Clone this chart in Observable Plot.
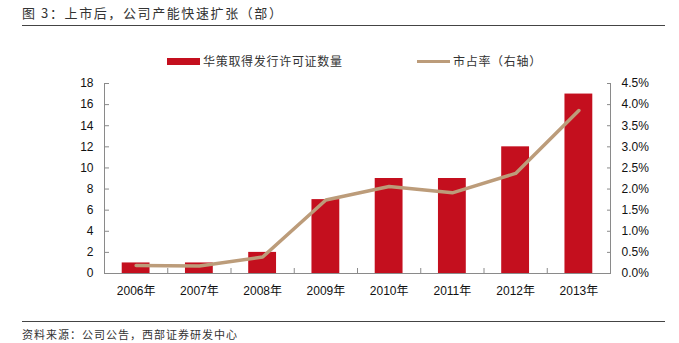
<!DOCTYPE html>
<html>
<head>
<meta charset="utf-8">
<script src="https://cdn.jsdelivr.net/npm/d3@7"></script>
<script src="https://cdn.jsdelivr.net/npm/@observablehq/plot@0.6"></script>
<style>
  html, body { margin: 0; padding: 0; background: #fff; }
  #root { position: relative; width: 679px; height: 343px; overflow: hidden; font-family: "Noto Sans CJK SC", "Liberation Sans", sans-serif; color: #222; }
  .abs { position: absolute; white-space: nowrap; }
  #title { left: 22px; top: 3px; font-size: 13px; letter-spacing: 1.6px; color: #333; }
  .hr { position: absolute; left: 22px; width: 643px; height: 0; border-top: 1px solid #444; }
  #source { left: 22px; top: 326px; font-size: 11px; letter-spacing: 1px; color: #333; }
  .leg { font-size: 12px; letter-spacing: 0.7px; color: #333; top: 52px; }
  #chart { position: absolute; left: 0; top: 70px; }
  #chart text { font-family: "Liberation Sans", "Noto Sans CJK SC", sans-serif; }
</style>
</head>
<body>
<div id="root">
  <div id="title" class="abs">图 3：上市后，公司产能快速扩张（部）</div>
  <div class="hr" style="top:25px"></div>
  <div class="abs" style="left:167px; top:58px; width:33px; height:7px; background:#C40F1E;"></div>
  <div class="abs leg" style="left:203px;">华策取得发行许可证数量</div>
  <div class="abs" style="left:417px; top:60px; width:33px; height:3px; background:#BC9C7A;"></div>
  <div class="abs leg" style="left:453px;">市占率（右轴）</div>
  <div id="chart"></div>
  <div class="hr" style="top:321px"></div>
  <div id="source" class="abs">资料来源：公司公告，西部证券研发中心</div>
</div>
<script>
const years = [2006, 2007, 2008, 2009, 2010, 2011, 2012, 2013];
const licenses = [1, 1, 2, 7, 9, 9, 12, 17];
const share = [0.19, 0.18, 0.39, 1.74, 2.06, 1.91, 2.37, 3.86]; // percent
const leftTicks = [0, 2, 4, 6, 8, 10, 12, 14, 16, 18];
const rightTicks = [0, 0.5, 1, 1.5, 2, 2.5, 3, 3.5, 4, 4.5];

const leftMax = 18, rightMax = 4.5;
const k = leftMax / rightMax;
const data = years.map((y, i) => ({year: y, count: licenses[i], share: share[i]}));
const halfBar = 0.22;
const bounds = years.slice(1).map(y => y - 0.5);
const axisColor = "#8a8a8a";

const chart = Plot.plot({
  width: 679,
  height: 235,
  marginTop: 13,
  marginBottom: 32,
  marginLeft: 104,
  marginRight: 69,
  style: {fontSize: "12px", color: "#111", background: "transparent"},
  x: {domain: [years[0] - 0.5, years[years.length - 1] + 0.5]},
  y: {domain: [0, leftMax]},
  marks: [
    Plot.rectY(data, {x1: d => d.year - halfBar, x2: d => d.year + halfBar, y: "count", fill: "#C40F1E"}),
    Plot.lineY(data, {x: "year", y: d => d.share * k, stroke: "#BC9C7A", strokeWidth: 3.5, strokeLinejoin: "round"}),
    Plot.ruleY([0], {stroke: axisColor}),
    Plot.frame({anchor: "left", stroke: axisColor}),
    Plot.frame({anchor: "right", stroke: axisColor}),
    Plot.axisY(leftTicks, {anchor: "left", tickSize: -5, tickPadding: 16, stroke: axisColor, label: null, fill: "#111"}),
    Plot.axisY(rightTicks.map(t => t * k), {anchor: "right", tickSize: -4, tickPadding: 15, stroke: axisColor, label: null, fill: "#111",
      tickFormat: d => (d / k).toFixed(1) + "%"}),
    Plot.axisX(bounds, {anchor: "bottom", tickSize: -5, tickFormat: () => "", stroke: axisColor, label: null}),
    Plot.axisX(years, {anchor: "bottom", tickSize: 0, tickPadding: 13, tickFormat: d => d + "年", label: null, fill: "#111"})
  ]
});
document.getElementById("chart").appendChild(chart);
</script>
</body>
</html>
